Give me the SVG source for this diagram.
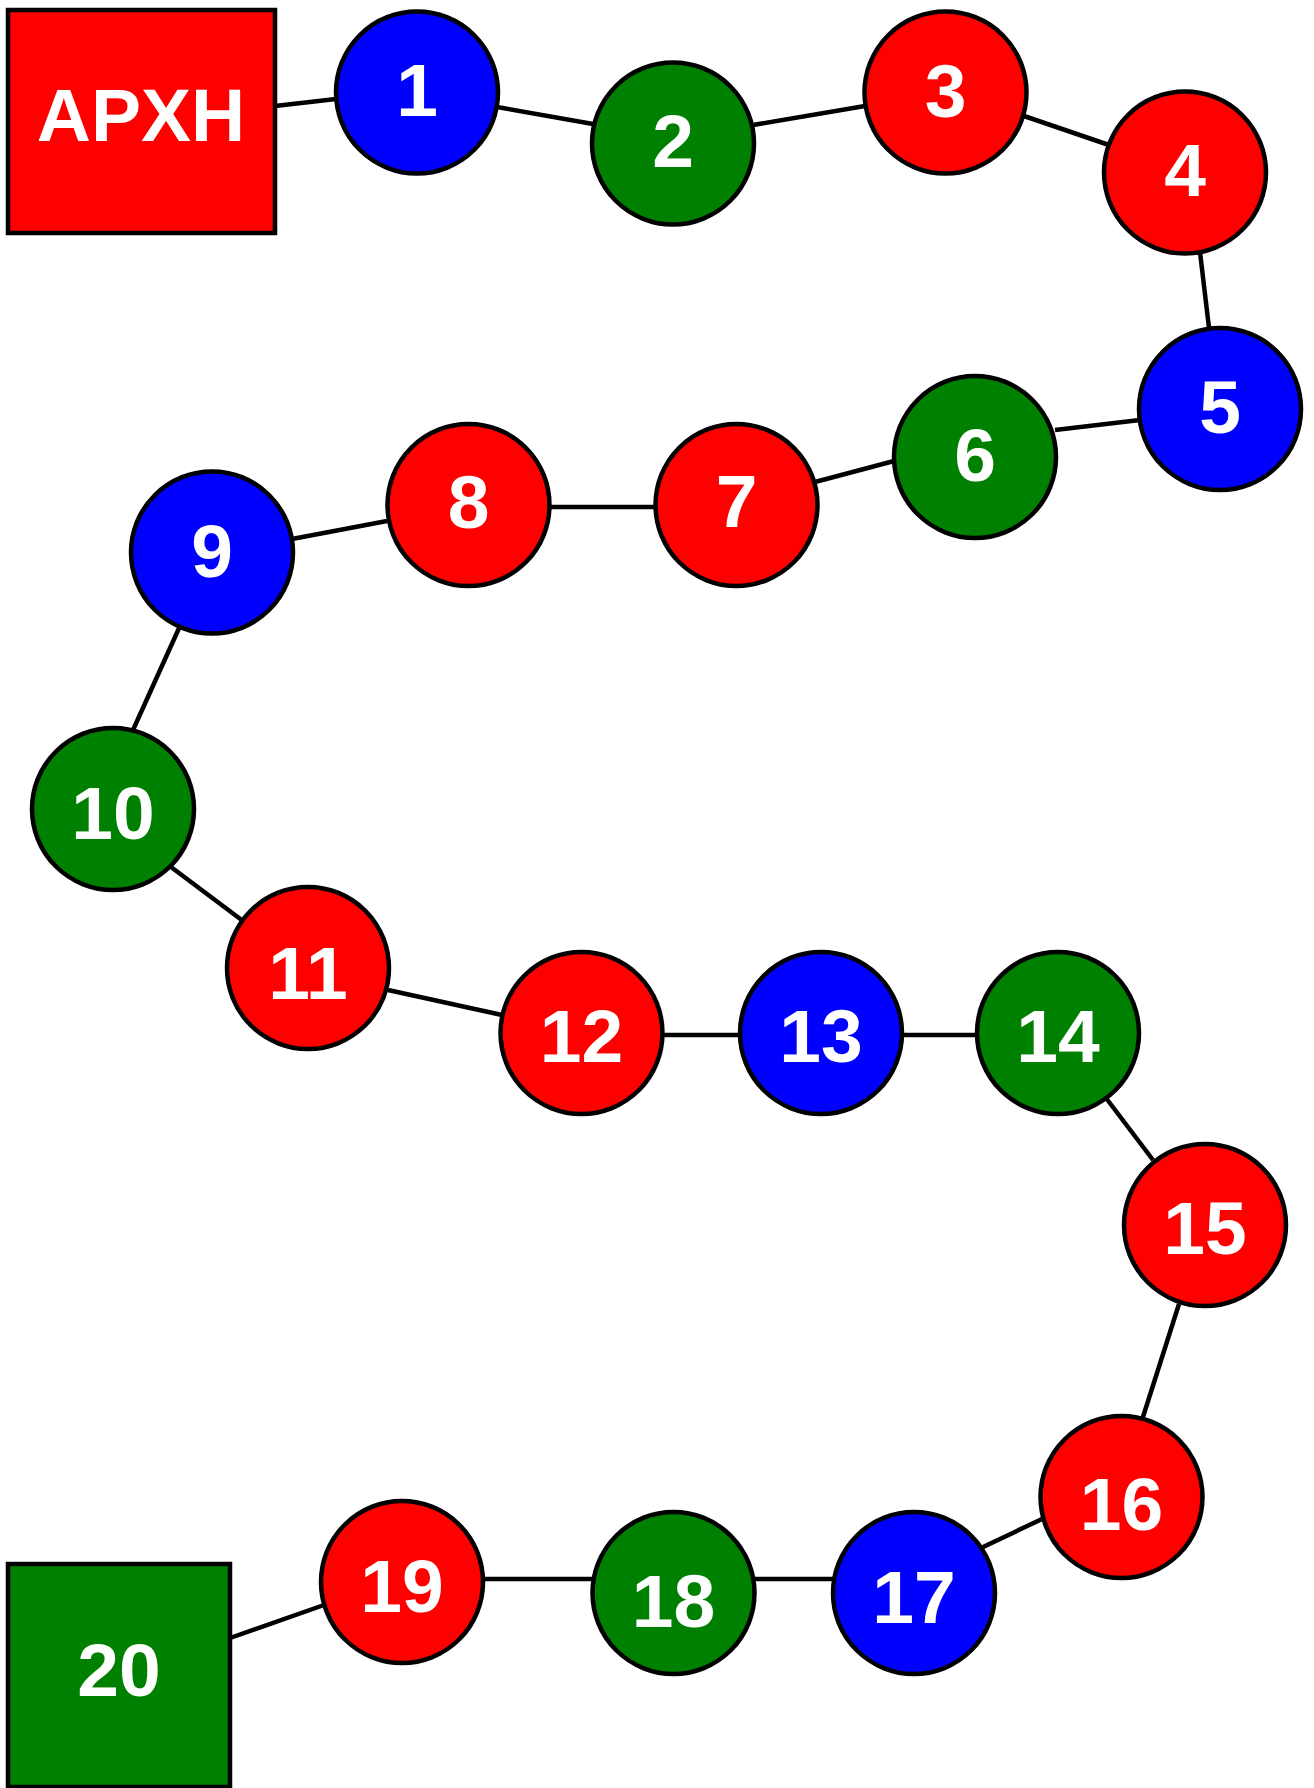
<svg xmlns="http://www.w3.org/2000/svg" width="1314" height="1788" viewBox="0 0 1314 1788">
<style>
.e{stroke:#000;stroke-width:4.5;fill:none}
.n{stroke:#000;stroke-width:4.5}
.r{fill:#ff0000}.b{fill:#0000ff}.g{fill:#008000}
text{font-family:"Liberation Sans",Arial,sans-serif;font-weight:bold;font-size:75px;fill:#fff;text-anchor:middle}
</style>
<rect width="1314" height="1788" fill="#fff"/>
<g id="connectors">
<line class="e" x1="275" y1="106" x2="336" y2="99"/>
<line class="e" x1="497" y1="107" x2="593" y2="124"/>
<line class="e" x1="753" y1="125" x2="865" y2="106"/>
<line class="e" x1="1024" y1="116" x2="1109" y2="145"/>
<line class="e" x1="1200" y1="252" x2="1209" y2="328"/>
<line class="e" x1="1140" y1="420" x2="1055" y2="430"/>
<line class="e" x1="894" y1="461" x2="815" y2="482"/>
<line class="e" x1="550" y1="507" x2="656" y2="507"/>
<line class="e" x1="387" y1="521" x2="292" y2="539"/>
<line class="e" x1="180" y1="626" x2="133" y2="730"/>
<line class="e" x1="171" y1="867" x2="243" y2="921"/>
<line class="e" x1="388" y1="990" x2="502" y2="1015"/>
<line class="e" x1="661" y1="1035" x2="740" y2="1035"/>
<line class="e" x1="901" y1="1035" x2="977" y2="1035"/>
<line class="e" x1="1106" y1="1098" x2="1153" y2="1160"/>
<line class="e" x1="1179" y1="1304" x2="1142" y2="1420"/>
<line class="e" x1="1042" y1="1519" x2="981" y2="1548"/>
<line class="e" x1="755" y1="1579" x2="833" y2="1579"/>
<line class="e" x1="484" y1="1579" x2="592" y2="1579"/>
<line class="e" x1="230" y1="1638" x2="324" y2="1605"/>
</g>
<g id="start"><rect class="n r" x="8" y="10" width="267" height="223"/><text x="141" y="141">APXH</text></g>
<g id="n1"><circle class="n b" cx="417" cy="92.5" r="81"/><text x="417" y="116">1</text></g>
<g id="n2"><circle class="n g" cx="673" cy="143.5" r="81"/><text x="673" y="167">2</text></g>
<g id="n3"><circle class="n r" cx="945.5" cy="92.5" r="81"/><text x="945.5" y="117">3</text></g>
<g id="n4"><circle class="n r" cx="1185" cy="172.5" r="81"/><text x="1185" y="196">4</text></g>
<g id="n5"><circle class="n b" cx="1220" cy="409" r="81"/><text x="1220" y="433">5</text></g>
<g id="n6"><circle class="n g" cx="975" cy="457" r="81"/><text x="975" y="481">6</text></g>
<g id="n7"><circle class="n r" cx="736.5" cy="505" r="81"/><text x="736.5" y="527">7</text></g>
<g id="n8"><circle class="n r" cx="468.5" cy="505" r="81"/><text x="468.5" y="528">8</text></g>
<g id="n9"><circle class="n b" cx="212" cy="552.5" r="81"/><text x="212" y="577">9</text></g>
<g id="n10"><circle class="n g" cx="113" cy="809" r="81"/><text x="113" y="839">10</text></g>
<g id="n11"><circle class="n r" cx="308" cy="968" r="81"/><text x="308" y="999">11</text></g>
<g id="n12"><circle class="n r" cx="581.5" cy="1033" r="81"/><text x="581.5" y="1062">12</text></g>
<g id="n13"><circle class="n b" cx="821" cy="1033" r="81"/><text x="821" y="1062">13</text></g>
<g id="n14"><circle class="n g" cx="1058" cy="1033" r="81"/><text x="1058" y="1062">14</text></g>
<g id="n15"><circle class="n r" cx="1205" cy="1225" r="81"/><text x="1205" y="1254">15</text></g>
<g id="n16"><circle class="n r" cx="1121.5" cy="1497" r="81"/><text x="1121.5" y="1530">16</text></g>
<g id="n17"><circle class="n b" cx="914" cy="1593" r="81"/><text x="914" y="1623">17</text></g>
<g id="n18"><circle class="n g" cx="673.5" cy="1593" r="81"/><text x="673.5" y="1627">18</text></g>
<g id="n19"><circle class="n r" cx="402" cy="1582" r="81"/><text x="402" y="1612">19</text></g>
<g id="n20"><rect class="n g" x="8" y="1564" width="222" height="223"/><text x="119" y="1696">20</text></g>
</svg>
